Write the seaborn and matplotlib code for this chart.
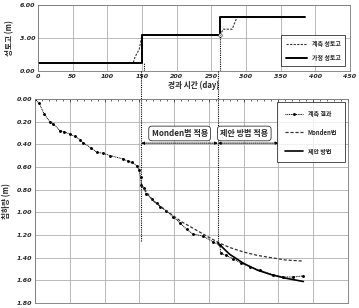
import matplotlib
matplotlib.use("Agg")
import matplotlib.pyplot as plt
import seaborn as sns
import pandas as pd

# ---------------- data ----------------
fill_days_measured = [0, 137, 140, 146, 150, 263, 267, 280, 287, 385]
fill_measured = [0.7, 0.7, 1.3, 2.0, 3.3, 3.3, 3.8, 3.8, 4.9, 4.9]
fill_days_design = [0, 150, 150, 263, 263, 385]
fill_design = [0.7, 0.7, 3.3, 3.3, 4.9, 4.9]

settle_days = [0, 6, 13, 21, 26, 36, 42, 50, 57, 65, 69, 80, 89, 98, 108, 127, 134,
               140, 146, 150, 152, 153, 157, 160, 168, 175, 180, 189, 199, 208, 218,
               227, 242, 256, 266, 267, 275, 285, 297, 309, 323, 342, 357, 371, 386]
settle_measured = [0.00, 0.04, 0.13, 0.20, 0.22, 0.28, 0.29, 0.31, 0.33, 0.36, 0.385,
                   0.43, 0.47, 0.48, 0.50, 0.53, 0.55, 0.56, 0.59, 0.63, 0.69, 0.76,
                   0.79, 0.84, 0.88, 0.92, 0.95, 0.99, 1.04, 1.09, 1.15, 1.19, 1.21,
                   1.26, 1.29, 1.36, 1.38, 1.41, 1.45, 1.48, 1.51, 1.55, 1.57, 1.57, 1.56]

monden_days = [153, 170, 190, 210, 230, 250, 265, 280, 300, 320, 340, 360, 386]
monden_settle = [0.76, 0.90, 0.99, 1.08, 1.15, 1.22, 1.27, 1.31, 1.35, 1.38, 1.40, 1.42, 1.43]

prop_days = [263, 280, 300, 320, 340, 360, 386]
prop_settle = [1.27, 1.37, 1.45, 1.51, 1.55, 1.58, 1.61]

x_ticks = [0, 50, 100, 150, 200, 250, 300, 350, 400, 450]
top_yticks = [0.0, 3.0, 6.0]
bot_yticks = [0.0, 0.2, 0.4, 0.6, 0.8, 1.0, 1.2, 1.4, 1.6, 1.8]

stage1_day = 153
stage2_day = 263

# ---------------- style ----------------
sns.set_style("white")
plt.rcParams['font.family'] = ['Noto Sans CJK KR', 'DejaVu Sans']

fig = plt.figure(figsize=(3.59, 3.08), dpi=100)
ax1 = fig.add_axes([0.106, 0.769, 0.869, 0.215])
ax2 = fig.add_axes([0.0975, 0.016, 0.8715, 0.663])

tick_font = dict(family='DejaVu Sans', style='italic', weight='bold', size=4.5)
grid_col = '#b0b0b0'

df_fm = pd.DataFrame({'day': fill_days_measured, 'h': fill_measured})
df_fd = pd.DataFrame({'day': fill_days_design, 'h': fill_design})
sns.lineplot(data=df_fm, x='day', y='h', ax=ax1, estimator=None, sort=False,
             color='#333333', lw=0.8, ls=(0, (2, 1.2)), label='계측 성토고')
sns.lineplot(data=df_fd, x='day', y='h', ax=ax1, estimator=None, sort=False,
             color='black', lw=1.4, label='가정 성토고')
ax1.plot([stage2_day], [3.3], marker='o', ms=2.5, mfc='white', mec='#444', mew=0.5)

ax1.set_xlim(0, 450)
ax1.set_ylim(0, 6)
ax1.set_xticks(x_ticks)
ax1.set_yticks(top_yticks)
ax1.set_xticklabels([str(v) for v in x_ticks], fontdict=tick_font)
ax1.set_yticklabels([f"{v:.2f}" for v in top_yticks], fontdict=tick_font)
ax1.set_xticks(range(0, 451, 10), minor=True)
ax1.tick_params(axis='both', which='both', direction='in', length=2, width=0.5, pad=2)
ax1.tick_params(axis='x', which='minor', length=1.5)
ax1.grid(True, which='major', color=grid_col, lw=0.6)
ax1.set_xlabel('경과 시간 (day)', fontsize=5.5, fontweight='bold', labelpad=1)
ax1.set_ylabel('성토고 (m)', fontsize=5.5, fontweight='bold', labelpad=4)
for s in ax1.spines.values():
    s.set_color('#777777'); s.set_linewidth(0.6)
leg1 = ax1.legend(loc='lower right', fontsize=4.3, frameon=True, fancybox=False,
                  handlelength=3.5, borderpad=0.8, labelspacing=1.2,
                  bbox_to_anchor=(0.995, 0.03))
leg1.get_frame().set_edgecolor('black'); leg1.get_frame().set_linewidth(0.6)
for t in leg1.get_texts():
    t.set_fontweight('bold')

# vertical stage lines in top panel
ax1.plot([stage1_day, stage1_day], [0, 0.7], color='black', lw=0.8, ls=(0, (1, 1)))
ax1.plot([stage2_day, stage2_day], [0, 3.3], color='black', lw=0.8, ls=(0, (1, 1)))

# ---------------- bottom panel ----------------
df_m = pd.DataFrame({'day': settle_days, 's': settle_measured})
df_mo = pd.DataFrame({'day': monden_days, 's': monden_settle})
df_p = pd.DataFrame({'day': prop_days, 's': prop_settle})
sns.lineplot(data=df_m, x='day', y='s', ax=ax2, estimator=None, sort=False,
             color='black', lw=0.7, ls=(0, (1, 0.8)), marker='o', ms=2.1,
             mec='black', mew=0, label='계측 결과')
sns.lineplot(data=df_mo, x='day', y='s', ax=ax2, estimator=None, sort=False,
             color='#333333', lw=0.9, ls=(0, (2.5, 1.5)), label='Monden법')
sns.lineplot(data=df_p, x='day', y='s', ax=ax2, estimator=None, sort=False,
             color='black', lw=1.2, label='제안 방법')

ax2.set_xlim(0, 450)
ax2.set_ylim(1.8, 0)
ax2.set_xticks(x_ticks)
ax2.set_xticklabels([])
ax2.set_yticks(bot_yticks)
ax2.set_yticklabels([f"{v:.2f}" for v in bot_yticks], fontdict=tick_font)
ax2.set_xticks(range(0, 451, 10), minor=True)
ax2.tick_params(axis='both', which='both', direction='in', length=2, width=0.5, pad=2,
                top=True)
ax2.tick_params(axis='x', which='minor', length=1.5)
ax2.grid(True, which='major', color=grid_col, lw=0.6)
ax2.set_xlabel('')
ax2.set_ylabel('침하량 (m)', fontsize=5.5, fontweight='bold', labelpad=4)
for s in ax2.spines.values():
    s.set_color('#777777'); s.set_linewidth(0.6)
leg2 = ax2.legend(loc='upper right', fontsize=4.3, frameon=True, fancybox=False,
                  handlelength=3.0, borderpad=1.3, labelspacing=2.0,
                  bbox_to_anchor=(1.0, 1.0))
leg2.get_frame().set_edgecolor('black'); leg2.get_frame().set_linewidth(0.6)
for t in leg2.get_texts():
    t.set_fontweight('bold')

# stage lines spanning the gap
ax2.plot([stage1_day, stage1_day], [-0.25, 1.26], color='black', lw=0.8,
         ls=(0, (1, 1)), clip_on=False)
ax2.plot([stage2_day, stage2_day], [-0.25, 1.29], color='black', lw=0.8,
         ls=(0, (1, 1)), clip_on=False)

# stage annotations
arrow_kw = dict(arrowstyle='<|-|>', color='black', lw=0.7, ls=(0, (1, 1)),
                mutation_scale=4, shrinkA=0, shrinkB=0)
ax2.annotate('', xy=(stage1_day, 0.39), xytext=(stage2_day, 0.39), arrowprops=arrow_kw)
ax2.annotate('', xy=(stage2_day, 0.39), xytext=(350, 0.39), arrowprops=arrow_kw)
box_kw = dict(boxstyle='round,pad=0.35,rounding_size=0.4', fc='white', ec='#333333', lw=0.6)
ax2.text(208, 0.305, 'Monden법 적용', ha='center', va='center', fontsize=5.8,
         fontweight='bold', bbox=box_kw)
ax2.text(301, 0.305, '제안 방법 적용', ha='center', va='center', fontsize=5.8,
         fontweight='bold', bbox=box_kw)

fig.savefig('out.png', dpi=100)
